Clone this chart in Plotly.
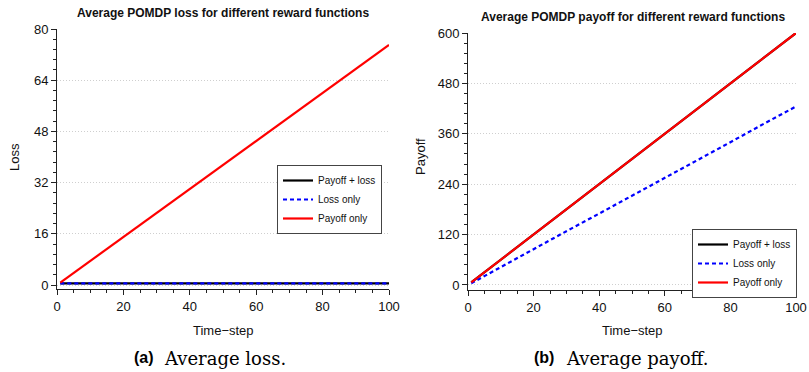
import plotly.graph_objects as go

W, H = 809, 372

time_steps = [1, 10, 20, 30, 40, 50, 60, 70, 80, 90, 100]
series_names = ["Payoff + loss", "Loss only", "Payoff only"]
series_colors = ["#000000", "#0000ff", "#ff0000"]
series_dash = ["solid", "4px,3px", "solid"]

loss_payoff_plus_loss = [0.5] * 11
loss_loss_only = [0.5] * 11
loss_payoff_only = [0.75, 7.5, 15, 22.5, 30, 37.5, 45, 52.5, 60, 67.5, 75]

pay_payoff_plus_loss = [6, 60, 120, 180, 240, 300, 360, 420, 480, 540, 600]
pay_loss_only = [4, 43, 85, 128, 170, 213, 255, 298, 340, 383, 425]
pay_payoff_only = [6, 60, 120, 180, 240, 300, 360, 420, 480, 540, 600]

left_ticks = [0, 16, 32, 48, 64, 80]
right_ticks = [0, 120, 240, 360, 480, 600]
x_ticks = [0, 20, 40, 60, 80, 100]

FONT = "Liberation Sans"
fig = go.Figure()

left_data = [loss_payoff_plus_loss, loss_loss_only, loss_payoff_only]
right_data = [pay_payoff_plus_loss, pay_loss_only, pay_payoff_only]
for i in range(3):
    fig.add_trace(go.Scatter(x=time_steps, y=left_data[i], mode="lines", name=series_names[i],
                             line=dict(color=series_colors[i], width=2.2, dash=series_dash[i]),
                             xaxis="x", yaxis="y", legend="legend"))
for i in range(3):
    fig.add_trace(go.Scatter(x=time_steps, y=right_data[i], mode="lines", name=series_names[i],
                             line=dict(color=series_colors[i], width=2.2, dash=series_dash[i]),
                             xaxis="x2", yaxis="y2", legend="legend2"))

def px_x(p):
    return p / W

def px_y(p):
    return 1 - p / H

axis_common = dict(showline=True, linecolor="#222", linewidth=1, ticks="outside", ticklen=5,
                   tickcolor="#222", tickfont=dict(family=FONT, size=13, color="#111"),
                   zeroline=False, mirror=False, automargin=False)

xcommon = dict(axis_common, range=[0, 100], tickvals=x_ticks, showgrid=False,
               minor=dict(ticks="outside", ticklen=3, dtick=5, tick0=0, tickcolor="#222", showgrid=False))

grid = dict(showgrid=True, gridcolor="#cfcfcf", griddash="1px,2px", gridwidth=1)

fig.update_layout(
    width=W, height=H, margin=dict(l=0, r=0, t=0, b=0), autosize=False,
    paper_bgcolor="white", plot_bgcolor="white", showlegend=True,
    xaxis=dict(xcommon, domain=[px_x(57), px_x(389)], anchor="y"),
    yaxis=dict(axis_common, **grid, domain=[px_y(289), px_y(29)], range=[-1.25, 80], tickvals=left_ticks,
               anchor="x",
               minor=dict(ticks="outside", ticklen=3, dtick=3.2, tick0=0, tickcolor="#222", showgrid=False)),
    xaxis2=dict(xcommon, domain=[px_x(468), px_x(796)], anchor="y2"),
    yaxis2=dict(axis_common, **grid, domain=[px_y(290), px_y(33)], range=[-12, 600], tickvals=right_ticks,
                anchor="x2",
                minor=dict(ticks="outside", ticklen=3, dtick=24, tick0=0, tickcolor="#222", showgrid=False)),
    legend=dict(x=px_x(382), y=px_y(165), xanchor="right", yanchor="top",
                bordercolor="#444", borderwidth=1, bgcolor="white",
                font=dict(family=FONT, size=10, color="#111"), tracegroupgap=0),
    legend2=dict(x=px_x(797), y=px_y(229), xanchor="right", yanchor="top",
                 bordercolor="#444", borderwidth=1, bgcolor="white",
                 font=dict(family=FONT, size=10, color="#111"), tracegroupgap=0),
    hovermode=False,
)

ann = []
def text(x, y, s, size, bold=False, family=FONT, angle=0, xanchor="center", color="#111"):
    ann.append(dict(x=px_x(x), y=px_y(y), xref="paper", yref="paper", text=(f"<b>{s}</b>" if bold else s),
                    showarrow=False, xanchor=xanchor, yanchor="middle", textangle=angle,
                    font=dict(family=family, size=size, color=color)))

text(223, 13, "Average POMDP loss for different reward functions", 12, bold=True)
text(633, 17, "Average POMDP payoff for different reward functions", 12, bold=True)
text(223, 330, "Time\u2212step", 13)
text(632, 330, "Time\u2212step", 13)
text(14, 157, "Loss", 13, angle=-90)
text(420, 157, "Payoff", 13, angle=-90)
text(156, 357, "(a)", 16, bold=True, xanchor="right", color="#000")
text(162, 358, "Average loss.", 18, family="DejaVu Serif", xanchor="left", color="#000")
text(556, 357, "(b)", 16, bold=True, xanchor="right", color="#000")
text(564, 358, "Average payoff.", 18, family="DejaVu Serif", xanchor="left", color="#000")
fig.update_layout(annotations=ann)

fig.write_html("out.html", config={"displayModeBar": False},
               post_script="document.body.style.margin='0';document.body.style.padding='0';"
                           "document.body.style.overflow='hidden';")
